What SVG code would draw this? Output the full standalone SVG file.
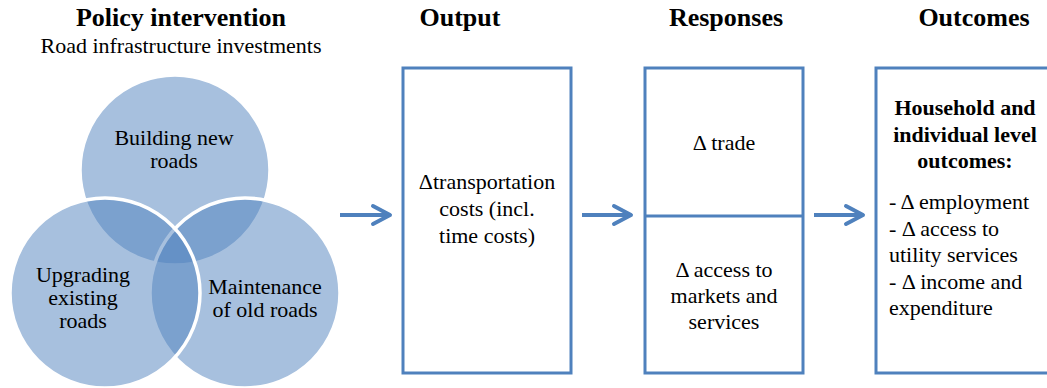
<svg xmlns="http://www.w3.org/2000/svg" width="1047" height="388" viewBox="0 0 1047 388">
  <style>
    text { fill: #000; font-family: "Liberation Serif", serif; font-size: 22px; }
    .head { font-size: 26px; font-weight: bold; text-anchor: middle; }
    .mid { text-anchor: middle; }
    .bold { font-weight: bold; }
    .lst { text-anchor: start; }
    .venn { fill: #4F81BD; fill-opacity: 0.5; stroke: #FFFFFF; stroke-width: 3.5; }
    .box { fill: #FFFFFF; stroke: #4F81BD; stroke-width: 3; }
    .sep { stroke: #4F81BD; stroke-width: 3; }
    .flow { stroke: #4F81BD; stroke-width: 4; fill: none; marker-end: url(#chev); }
  </style>
  <defs>
    <marker id="chev" viewBox="-22 -12 26 24" refX="0" refY="0" markerWidth="26" markerHeight="24" markerUnits="userSpaceOnUse" orient="auto">
      <path d="M-17,-9 L0,0 L-17,9" fill="none" stroke="#4F81BD" stroke-width="4" stroke-linecap="round" stroke-linejoin="round"/>
    </marker>
  </defs>

  <!-- column headings -->
  <g id="headings">
    <text class="head" x="181" y="26">Policy intervention</text>
    <text class="mid" x="181" y="53">Road infrastructure investments</text>
    <text class="head" x="460" y="26">Output</text>
    <text class="head" x="726" y="26">Responses</text>
    <text class="head" x="974" y="26">Outcomes</text>
  </g>

  <!-- intervention Venn: drawn top, right, left so later outlines sit above earlier fills -->
  <g id="venn-building">
    <circle class="venn" cx="175" cy="170" r="95"/>
  </g>
  <g id="venn-maintenance">
    <circle class="venn" cx="245" cy="293" r="95"/>
  </g>
  <g id="venn-upgrading">
    <circle class="venn" cx="105" cy="293" r="95"/>
  </g>
  <g id="venn-labels">
    <text class="mid" x="174" y="145">Building new<tspan x="174" dy="23">roads</tspan></text>
    <text class="mid" x="83" y="282">Upgrading<tspan x="83" dy="23">existing</tspan><tspan x="83" dy="23">roads</tspan></text>
    <text class="mid" x="265" y="294">Maintenance<tspan x="265" dy="23">of old roads</tspan></text>
  </g>

  <!-- output -->
  <g id="output">
    <rect class="box" x="403" y="68" width="168" height="305"/>
    <text class="mid" x="487" y="189">Δtransportation<tspan x="487" dy="27">costs (incl.</tspan><tspan x="487" dy="27">time costs)</tspan></text>
  </g>

  <!-- responses -->
  <g id="responses">
    <rect class="box" x="645" y="68" width="158" height="305"/>
    <line class="sep" x1="645" y1="216" x2="803" y2="216"/>
    <text class="mid" x="724" y="150">Δ trade</text>
    <text class="mid" x="724" y="277">Δ access to<tspan x="724" dy="26">markets and</tspan><tspan x="724" dy="26">services</tspan></text>
  </g>

  <!-- outcomes -->
  <g id="outcomes">
    <rect class="box" x="876" y="68" width="190" height="305"/>
    <text class="mid bold" x="965" y="115">Household and<tspan x="965" dy="27">individual level</tspan><tspan x="965" dy="26">outcomes:</tspan></text>
    <text class="lst" x="889" y="209">- Δ employment<tspan x="889" dy="27">- Δ access to</tspan><tspan x="889" dy="26">utility services</tspan><tspan x="889" dy="27">- Δ income and</tspan><tspan x="889" dy="26">expenditure</tspan></text>
  </g>

  <!-- connectors -->
  <g id="connectors">
    <line class="flow" x1="340" y1="215" x2="390" y2="215"/>
    <line class="flow" x1="582" y1="215" x2="631" y2="215"/>
    <line class="flow" x1="814" y1="215" x2="863" y2="215"/>
  </g>
</svg>
